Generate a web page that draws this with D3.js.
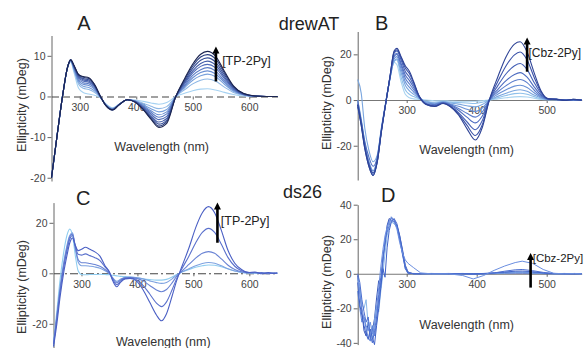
<!DOCTYPE html>
<html>
<head>
<meta charset="utf-8">
<script src="https://cdn.jsdelivr.net/npm/d3@7"></script>
<style>
body { margin: 0; background: #fff; }
svg { display: block; font-family: "Liberation Sans", Arial, sans-serif; }
</style>
</head>
<body>
<svg id="chart" width="586" height="348"></svg>
<script>
// ---- Panel A : drewAT + TP-2Py ----
const aWl = [250,260,270,278,284,290,298,306,316,326,336,346,358,370,384,398,412,426,440,454,470,486,500,514,526,540,556,572,590,610,630,650];
const aCurves = [
  [-20,-9.5,0.5,6.8,8.5,5.8,2.0,1.0,0.6,0.3,-0.3,-1.8,-2.8,-1.9,-0.8,-0.9,-1.2,-1.6,-1.9,-1.5,0,0.8,1.4,1.8,1.9,1.6,1.0,0.5,0.1,0,0,0],
  [-20,-9.5,0.5,6.9,8.7,6.3,3.0,2.0,1.7,1.0,-0.2,-1.9,-2.9,-1.9,-0.8,-1.0,-1.7,-2.4,-3.0,-2.5,0,1.7,3.1,4.0,4.3,3.8,2.3,1.0,0.3,0,0,0],
  [-20,-9.5,0.5,6.9,8.8,6.6,3.5,2.5,2.2,1.4,-0.1,-2.0,-3.0,-1.9,-0.8,-1.1,-2.0,-3.0,-3.8,-3.2,0,2.2,4.0,5.1,5.5,4.9,3.0,1.3,0.4,0.05,0,0],
  [-20,-9.5,0.5,6.9,8.8,6.8,3.9,3.0,2.7,1.8,0,-2.0,-3.1,-1.9,-0.8,-1.1,-2.2,-3.5,-4.5,-3.8,0,2.5,4.6,5.9,6.3,5.6,3.5,1.5,0.4,0.05,0,0],
  [-20,-9.5,0.5,6.9,8.9,7.0,4.3,3.4,3.1,2.1,0,-2.1,-3.1,-2.0,-0.8,-1.2,-2.4,-3.9,-5.1,-4.3,0,2.8,5.2,6.6,7.1,6.3,3.9,1.7,0.5,0.05,0,0],
  [-20,-9.5,0.5,7.0,8.9,7.1,4.6,3.8,3.5,2.4,0.1,-2.1,-3.2,-2.0,-0.8,-1.2,-2.6,-4.3,-5.7,-4.9,0,3.2,5.8,7.4,7.9,7.1,4.4,1.9,0.5,0.1,0,0],
  [-20,-9.5,0.5,7.0,9.0,7.3,4.9,4.1,3.8,2.6,0.1,-2.1,-3.2,-2.0,-0.8,-1.3,-2.8,-4.7,-6.3,-5.4,0,3.5,6.3,8.1,8.7,7.8,4.8,2.1,0.6,0.1,0,0],
  [-20,-9.5,0.5,7.0,9.0,7.4,5.1,4.4,4.1,2.8,0.2,-2.2,-3.3,-2.0,-0.8,-1.3,-3.0,-5.1,-6.8,-5.8,0,3.8,6.9,8.9,9.5,8.5,5.3,2.3,0.6,0.1,0,0],
  [-20,-9.5,0.5,7.0,9.0,7.5,5.3,4.7,4.4,2.9,0.2,-2.2,-3.3,-2.0,-0.8,-1.4,-3.1,-5.4,-7.3,-6.2,0,4.2,7.5,9.7,10.3,9.3,5.8,2.5,0.7,0.1,0,0],
  [-20,-9.5,0.5,7.0,9.0,7.6,5.4,4.9,4.6,3.0,0.2,-2.2,-3.3,-2.0,-0.8,-1.4,-3.2,-5.6,-7.6,-6.6,0,4.5,8.0,10.4,11.1,10.0,6.2,2.6,0.7,0.1,0,0]
];
const aColors = ['#a6d2f2','#8fb8e6','#7aa2dc','#6a8fd2','#5b7cc6','#4f6bb8','#435da8','#374f98','#2b3f80','#1c2550'];

// ---- Panel B : drewAT + Cbz-2Py ----
const bWl = [230,235,240,246,252,258,264,270,276,282,286,292,298,304,310,318,328,340,352,362,374,386,398,408,418,430,442,454,462,472,482,492,502,514,526,538,550];
const bCurves = [
  [0,-8,-18,-27,-31,-25,-12,-1,9,16.5,15.5,8,2.5,1,0.5,0.3,0,-0.3,-0.3,-0.4,-0.5,-0.5,-0.5,-0.3,0,0.5,1.0,1.4,1.5,1.3,0.8,0.3,0.1,0.2,-0.1,0.2,0],
  [-3,-10,-20,-28,-33,-27,-13,-1.5,9,17,17.5,10,4.5,2.5,1.5,0.5,-0.5,-1.0,-0.6,-0.9,-1.1,-1.3,-1.5,-1.0,0,1.0,2.0,2.8,3.0,2.5,1.5,0.6,0.2,0.1,0.2,-0.1,0.1],
  [9,3,-12,-22,-27,-24,-12,-1,9.5,17,18,12,6.5,4,2.5,0.8,-0.8,-1.3,-0.8,-1.3,-1.8,-2.5,-3.0,-2.0,0,1.6,3.0,4.2,4.5,3.8,2.2,0.9,0.2,0.3,0,0.2,-0.1],
  [-1,-9,-19,-27,-31,-26,-13,-1.5,9.5,18,19,13.5,8,5.5,3.5,1,-1.2,-1.7,-1.0,-1.7,-2.7,-4.0,-5.0,-3.5,0,2.5,4.5,6.1,6.5,5.5,3.2,1.2,0.3,0.2,0.1,-0.1,0.1],
  [-2,-10,-20,-28,-32,-26,-13,-1.5,9.5,19,20,15,9.5,7,4.5,1.2,-1.5,-2.0,-1.1,-2.0,-3.7,-5.8,-7.5,-5.2,0,3.5,6.3,8.4,9.0,7.6,4.4,1.6,0.4,0.3,-0.1,0.2,0],
  [0,-9,-18,-25,-29,-25,-12.5,-1.5,9.5,19.5,20.5,16,11,8.5,5.5,1.4,-1.7,-2.3,-1.2,-2.2,-4.5,-7.5,-10.0,-7.0,0,4.6,8.5,11.2,12.0,10.0,5.8,2.1,0.5,0.2,0.2,0,0.1],
  [-3,-11,-21,-29,-33,-27,-13.5,-1.5,10,20.5,21.5,17.5,12.5,10,6.5,1.5,-1.8,-2.5,-1.3,-2.5,-5.5,-9.5,-13.0,-9.0,0,6.2,11.5,15.0,16.0,13.3,7.7,2.8,0.6,0.3,-0.1,0.2,0],
  [-2,-10,-20,-28,-32,-26.5,-13,-1.5,10,21,22,18.5,14,11.5,7.5,1.6,-1.9,-2.7,-1.4,-2.7,-6.0,-11.0,-15.5,-10.8,0,8.0,15.0,19.8,21.0,17.5,10.0,3.5,0.6,0.4,0,0.3,-0.1],
  [-2,-11,-21,-29,-33,-27,-13.5,-1.5,10,21.5,22.6,19,15,12.5,8,1.5,-2.0,-2.8,-1.5,-2.8,-6.5,-12.5,-17.5,-12.0,0,10.0,19.0,24.5,25.5,21.0,12.0,4.0,0.5,0.3,-0.2,0.3,-0.1]
];
const bColors = ['#a9d3f0','#8fc0ea','#7aa6df','#6890d6','#5a7dcc','#4d6cc0','#4460b6','#3a52a8','#2e4396'];

// ---- Panel C : ds26 + TP-2Py ----
const cWl = [250,256,262,268,274,279,284,289,294,300,307,315,324,333,342,350,356,363,370,378,387,398,410,422,434,443,452,462,470,480,492,504,516,527,538,550,562,574,586,598,610,622,634,645,650];
const cCurves = [
  [-27,-15,-2,8,15,17.5,15,7,1,-0.5,-0.6,-0.5,-0.5,-0.4,-0.5,-0.6,-0.8,-1.0,-1.2,-1.3,-1.5,-1.8,-2.2,-2.5,-2.7,-2.7,-2.4,-1.5,-0.5,0.5,1.5,2.4,3.0,3.3,3.2,2.6,1.7,0.9,0.3,0.1,0,0.1,0,0,0],
  [-29,-17,-5,4,11,15,16,10,4.5,3.0,3.0,2.8,2.5,2.0,1.0,-0.2,-1.8,-3.2,-2.3,-1.6,-1.5,-1.7,-2.2,-3.0,-3.7,-4.0,-3.6,-2.2,-0.7,0.6,1.8,3.0,3.9,4.3,4.0,3.0,1.8,0.9,0.4,0.1,0.2,0,0.1,0,0],
  [-28,-17,-6,3,10,14.5,15.5,10,5.5,4.2,4.2,3.9,3.5,2.8,1.5,0,-2.0,-3.8,-2.6,-1.8,-1.7,-2.0,-3.0,-4.8,-6.6,-7.3,-6.4,-3.8,-1.2,1.0,3.5,6.0,7.9,8.6,7.9,5.7,3.2,1.5,0.6,0.2,0.3,0,0.2,-0.1,0],
  [-28,-18,-7,2,9,13.5,15,11,7.5,7.2,7.7,7.0,6.2,5.0,2.5,0.3,-2.5,-4.5,-3.0,-2.0,-1.8,-2.5,-4.8,-8.2,-11.8,-13.2,-11.3,-6.5,-2.2,2,6.8,12,16.2,17.8,16.2,11.5,6.2,2.8,1.0,0.4,0.2,0.3,-0.2,0.2,0],
  [-29,-20,-9,0,7,12,14,11,9,9.5,10.3,9.5,8.5,6.8,3,0.5,-3,-5.3,-3.5,-2.2,-2.0,-3.0,-6.5,-11.5,-16.5,-18.8,-16,-9,-3,3,10,18,24,26.4,24,17,9,4,1.5,0.3,0.5,-0.2,0.3,-0.1,0.2]
];
const cColors = ['#90cdf0','#7ea2e0','#6882d4','#5a70cc','#4a5fc4'];

// ---- Panel D : ds26 + Cbz-2Py ----
const dWl = [230,233,236,239,242,245,248,251,254,257,260,263,266,269,272,275,278,282,286,290,294,298,302,310,320,335,360,380,395,410,425,440,455,465,480,495,510,525,540,550];
const dCurves = [
  [-1,-10,-22,-33,-36,-28,-38,-33,-26,-14,-4,-8,10,16,28,32,31,30,28,22,14,5,1,0,0,0.1,0,0,0,0,0.1,0.3,0.4,0.4,0.3,0.1,0,0,0,0],
  [-3,-8,-18,-20,-15,-30,-34,-38,-28,-18,-22,-10,0,12,22,27,30,29,27,21,12,4,0.5,0,0.1,0,0,0,0.1,0,0.2,0.5,0.7,0.8,0.5,0.2,0,0,0.1,0],
  [-10,-20,-28,-25,-32,-37,-39,-30,-36,-28,-15,-5,6,20,24,28,33,31,27,20,12,3,0,0.2,0,0,0,0.2,0,0,0.3,0.8,1.0,1.0,0.8,0.3,0,0.2,0,0],
  [-5,-18,-24,-30,-35,-38,-32,-37,-41,-30,-20,-8,3,-2,15,25,30,32,29,22,13,4,0.5,0,0,0.2,0,0,0,0.2,0.6,1.0,1.5,1.6,1.2,0.5,0.1,0,0,0.1],
  [0,-5,-15,-22,-28,-25,-36,-40,-33,-25,-12,-2,8,18,26,31,32,31,28,20,11,3,0.5,0,0.2,0,0.2,0,-0.3,0,0.5,1.5,2.3,2.5,1.8,0.8,0.2,0,0.1,0],
  [-2,-12,-20,-26,-30,-33,-28,-35,-30,-20,-8,4,14,22,27,30,31,30,26,18,12,8,6,3.5,0.5,0,0,-1,-3,-1,2,4.5,6.5,7.3,6,2.5,0.3,0,0.2,0]
];
const dColors = ['#3856b8','#8ab8ea','#5a82d8','#3f62c8','#4d6fd0','#6a8ee0'];

// tick values
const aYTicks = [10, 0, -10, -20], bYTicks = [20, 0, -20], cYTicks = [20, 0, -20], dYTicks = [40, 20, 0, -20, -40];
const longXTicks = [300, 400, 500, 600], shortXTicks = [300, 400, 500];

const svg = d3.select('#chart');

function drawPanel(p) {
  const x = d3.scaleLinear().domain(p.xDomain).range(p.xRange);
  const y = d3.scaleLinear().domain(p.yDomain).range(p.yRange);
  const g = svg.append('g');

  // y axis
  const gy = g.append('g')
    .attr('transform', `translate(${p.xRange[0]},0)`)
    .call(d3.axisLeft(y).tickValues(p.yTicks).tickSize(4).tickSizeOuter(0).tickPadding(2).tickFormat(d => String(d)));
  gy.select('.domain').attr('stroke', '#666');
  gy.selectAll('.tick line').attr('stroke', '#666');
  gy.selectAll('text').attr('font-size', 10.5).attr('fill', '#444').attr('font-family', 'Liberation Sans, Arial, sans-serif');

  // x axis on zero line
  const gx = g.append('g')
    .attr('transform', `translate(0,${y(0)})`)
    .call(d3.axisBottom(x).tickValues(p.xTicks).tickSize(3).tickSizeOuter(0).tickPadding(4));
  gx.select('.domain').attr('stroke', p.zeroColor).attr('stroke-width', 1.1).attr('stroke-dasharray', p.zeroDash);
  gx.selectAll('.tick line').attr('stroke', '#666');
  gx.selectAll('text').attr('font-size', 10.5).attr('fill', '#444').attr('font-family', 'Liberation Sans, Arial, sans-serif');

  // spectra
  const line = d3.line()
    .x((d, i) => x(p.wl[i]))
    .y(d => y(d))
    .curve(p.curve);
  g.selectAll('path.spec')
    .data(p.curves)
    .enter()
    .append('path')
    .attr('class', 'spec')
    .attr('d', line)
    .attr('fill', 'none')
    .attr('stroke', (d, i) => p.colors[i])
    .attr('stroke-width', p.lineWidth);

  // axis titles
  g.append('text')
    .attr('transform', `translate(${p.yTitle[0]},${p.yTitle[1]}) rotate(-90)`)
    .attr('text-anchor', 'middle').attr('dy', '0.35em')
    .attr('font-size', 12.5).attr('fill', '#333')
    .text('Ellipticity (mDeg)');
  g.append('text')
    .attr('x', p.xTitle[0]).attr('y', p.xTitle[1])
    .attr('text-anchor', 'middle').attr('dy', '0.35em')
    .attr('font-size', 12.5).attr('fill', '#333')
    .text('Wavelength (nm)');

  // panel letter
  g.append('text')
    .attr('x', p.letterPos[0]).attr('y', p.letterPos[1])
    .attr('text-anchor', 'middle').attr('dy', '0.35em')
    .attr('font-size', 20).attr('fill', '#222')
    .text(p.letter);

  // arrow + ligand label
  const ax = x(p.arrow[0]), ay0 = y(p.arrow[1]), ay1 = y(p.arrow[2]);
  g.append('line')
    .attr('x1', ax).attr('x2', ax).attr('y1', ay0).attr('y2', ay1 + 6)
    .attr('stroke', '#000').attr('stroke-width', 2.6);
  g.append('path')
    .attr('d', `M${ax - 3.5},${ay1 + 7}L${ax},${ay1}L${ax + 3.5},${ay1 + 7}Z`)
    .attr('fill', '#000');
  g.append('text')
    .attr('x', x(p.labelAt[0])).attr('y', y(p.labelAt[1]))
    .attr('dy', '0.35em')
    .attr('font-size', p.labelSize).attr('fill', '#222')
    .text(p.label);
}

drawPanel({
  wl: aWl, curves: aCurves, colors: aColors, lineWidth: 1.1,
  xDomain: [250, 650], xRange: [51.5, 277.5],
  yDomain: [-20.8, 15], yRange: [181, 35.5],
  yTicks: aYTicks, xTicks: longXTicks,
  zeroColor: '#444', zeroDash: '7,4',
  curve: d3.curveMonotoneX,
  yTitle: [21.7, 105], xTitle: [161.7, 146.7],
  letter: 'A', letterPos: [84, 23],
  arrow: [541, 3.7, 12.3], label: '[TP-2Py]', labelAt: [552, 8.9], labelSize: 12.5
});

drawPanel({
  wl: bWl, curves: bCurves, colors: bColors, lineWidth: 1.1,
  xDomain: [230, 550], xRange: [357.7, 581.7],
  yDomain: [-35, 30], yRange: [180, 31.5],
  yTicks: bYTicks, xTicks: shortXTicks,
  zeroColor: '#777', zeroDash: null,
  curve: d3.curveMonotoneX,
  yTitle: [326.7, 103], xTitle: [466.7, 149.3],
  letter: 'B', letterPos: [381.7, 23],
  arrow: [472, 12.4, 27.4], label: '[Cbz-2Py]', labelAt: [474, 20.8], labelSize: 12
});

drawPanel({
  wl: cWl, curves: cCurves, colors: cColors, lineWidth: 1.1,
  xDomain: [250, 650], xRange: [53.5, 277.3],
  yDomain: [-29.5, 28], yRange: [347.8, 202.6],
  yTicks: cYTicks, xTicks: longXTicks,
  zeroColor: '#444', zeroDash: '8,3,2,3',
  curve: d3.curveMonotoneX,
  yTitle: [21.7, 287], xTitle: [163.3, 341.7],
  letter: 'C', letterPos: [83.3, 198.3],
  arrow: [543, 12.1, 28], label: '[TP-2Py]', labelAt: [549, 21], labelSize: 12.5
});

drawPanel({
  wl: dWl, curves: dCurves, colors: dColors, lineWidth: 1,
  xDomain: [230, 550], xRange: [357.7, 581.7],
  yDomain: [-41, 40], yRange: [344.6, 204.7],
  yTicks: dYTicks, xTicks: shortXTicks,
  zeroColor: '#777', zeroDash: null,
  curve: d3.curveLinear,
  yTitle: [326.7, 282], xTitle: [466.7, 325],
  letter: 'D', letterPos: [388.3, 195],
  arrow: [477, -8, 12.1], label: '[Cbz-2Py]', labelAt: [480, 9.3], labelSize: 11.5
});

// DNA titles
svg.append('text').attr('x', 309).attr('y', 23.3).attr('dy', '0.35em')
  .attr('text-anchor', 'middle').attr('font-size', 18).attr('fill', '#222').text('drewAT');
svg.append('text').attr('x', 302.5).attr('y', 192).attr('dy', '0.35em')
  .attr('text-anchor', 'middle').attr('font-size', 18).attr('fill', '#222').text('ds26');
</script>
</body>
</html>
